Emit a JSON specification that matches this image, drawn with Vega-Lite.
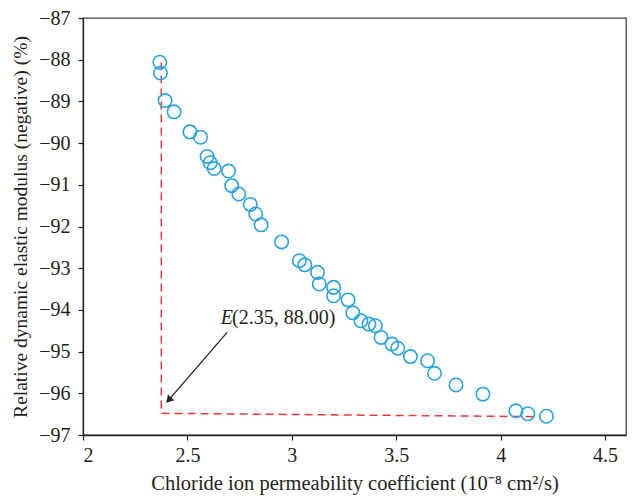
{
  "$schema": "https://vega.github.io/schema/vega-lite/v6.json",
  "autosize": "none",
  "width": 543,
  "height": 417,
  "padding": {"left": 83, "top": 18, "right": 11, "bottom": 69},
  "background": "white",
  "config": {
    "view": {"stroke": "#444", "strokeWidth": 1.3},
    "axis": {
      "grid": false,
      "domainColor": "#222",
      "domainWidth": 1.3,
      "tickColor": "#222",
      "tickWidth": 1.2,
      "tickSize": 5,
      "labelFont": "Liberation Serif",
      "labelFontSize": 20,
      "labelColor": "#231f20",
      "titleFont": "Liberation Serif",
      "titleFontWeight": "normal",
      "titleColor": "#231f20"
    }
  },
  "datasets": {
    "pts": [
      {"x": 2.368, "y": -88.06},
      {"x": 2.371, "y": -88.32},
      {"x": 2.393, "y": -88.98},
      {"x": 2.436, "y": -89.25},
      {"x": 2.512, "y": -89.73},
      {"x": 2.563, "y": -89.86},
      {"x": 2.594, "y": -90.32},
      {"x": 2.609, "y": -90.47},
      {"x": 2.628, "y": -90.61},
      {"x": 2.697, "y": -90.67},
      {"x": 2.712, "y": -91.02},
      {"x": 2.746, "y": -91.22},
      {"x": 2.801, "y": -91.47},
      {"x": 2.827, "y": -91.7},
      {"x": 2.853, "y": -91.96},
      {"x": 2.951, "y": -92.37},
      {"x": 3.036, "y": -92.82},
      {"x": 3.062, "y": -92.92},
      {"x": 3.123, "y": -93.1},
      {"x": 3.131, "y": -93.38},
      {"x": 3.2, "y": -93.46},
      {"x": 3.2, "y": -93.66},
      {"x": 3.269, "y": -93.76},
      {"x": 3.292, "y": -94.07},
      {"x": 3.331, "y": -94.26},
      {"x": 3.369, "y": -94.34},
      {"x": 3.4, "y": -94.38},
      {"x": 3.427, "y": -94.66},
      {"x": 3.479, "y": -94.82},
      {"x": 3.507, "y": -94.92},
      {"x": 3.568, "y": -95.12},
      {"x": 3.65, "y": -95.22},
      {"x": 3.683, "y": -95.52},
      {"x": 3.786, "y": -95.8},
      {"x": 3.915, "y": -96.02},
      {"x": 4.073, "y": -96.42},
      {"x": 4.13, "y": -96.49},
      {"x": 4.219, "y": -96.55}
    ],
    "guide": [
      {"o": 1, "x": 2.375, "y": -88.07},
      {"o": 2, "x": 2.375, "y": -96.48},
      {"o": 3, "x": 4.165, "y": -96.56}
    ],
    "arrow": [
      {"x": 2.69, "y": -94.54, "x2": 2.414, "y2": -96.14}
    ],
    "labelE": [
      {"x": 2.66, "y": -94.34, "t": "E"}
    ],
    "labelRest": [
      {"x": 2.714, "y": -94.34, "t": "(2.35, 88.00)"}
    ]
  },
  "layer": [
    {
      "data": {"name": "guide"},
      "mark": {"type": "line", "color": "#e8383d", "strokeWidth": 1.5, "strokeDash": [8, 5]},
      "encoding": {
        "x": {"field": "x", "type": "quantitative", "scale": {"domain": [2, 4.5]},
          "axis": {"values": [2, 2.5, 3, 3.5, 4, 4.5], "format": "~g", "labelPadding": 5, "titlePadding": 8, "titleFontSize": 20.5, "title": "Chloride ion permeability coefficient (10⁻⁸ cm²/s)"}},
        "y": {"field": "y", "type": "quantitative", "scale": {"domain": [-97, -87]},
          "axis": {"values": [-97, -96, -95, -94, -93, -92, -91, -90, -89, -88, -87], "labelPadding": 8, "titlePadding": 8, "titleFontSize": 19.5, "title": "Relative dynamic elastic modulus (negative) (%)"}},
        "order": {"field": "o"}
      }
    },
    {
      "data": {"name": "pts"},
      "mark": {"type": "point", "shape": "circle", "filled": false, "stroke": "#2aa4de", "strokeWidth": 1.6, "size": 180, "opacity": 1},
      "encoding": {
        "x": {"field": "x", "type": "quantitative"},
        "y": {"field": "y", "type": "quantitative"}
      }
    },
    {
      "data": {"name": "arrow"},
      "mark": {"type": "rule", "color": "#222", "strokeWidth": 1.3},
      "encoding": {
        "x": {"field": "x", "type": "quantitative"},
        "y": {"field": "y", "type": "quantitative"},
        "x2": {"field": "x2"},
        "y2": {"field": "y2"}
      }
    },
    {
      "data": {"name": "arrow"},
      "mark": {"type": "point", "shape": "triangle", "filled": true, "color": "#222", "size": 70, "angle": 222, "opacity": 1},
      "encoding": {
        "x": {"field": "x2", "type": "quantitative"},
        "y": {"field": "y2", "type": "quantitative"}
      }
    },
    {
      "data": {"name": "labelE"},
      "mark": {"type": "text", "font": "Liberation Serif", "fontSize": 20, "fontStyle": "italic", "align": "left", "baseline": "alphabetic", "color": "#231f20"},
      "encoding": {
        "x": {"field": "x", "type": "quantitative"},
        "y": {"field": "y", "type": "quantitative"},
        "text": {"field": "t"}
      }
    },
    {
      "data": {"name": "labelRest"},
      "mark": {"type": "text", "font": "Liberation Serif", "fontSize": 20, "align": "left", "baseline": "alphabetic", "color": "#231f20"},
      "encoding": {
        "x": {"field": "x", "type": "quantitative"},
        "y": {"field": "y", "type": "quantitative"},
        "text": {"field": "t"}
      }
    }
  ]
}
